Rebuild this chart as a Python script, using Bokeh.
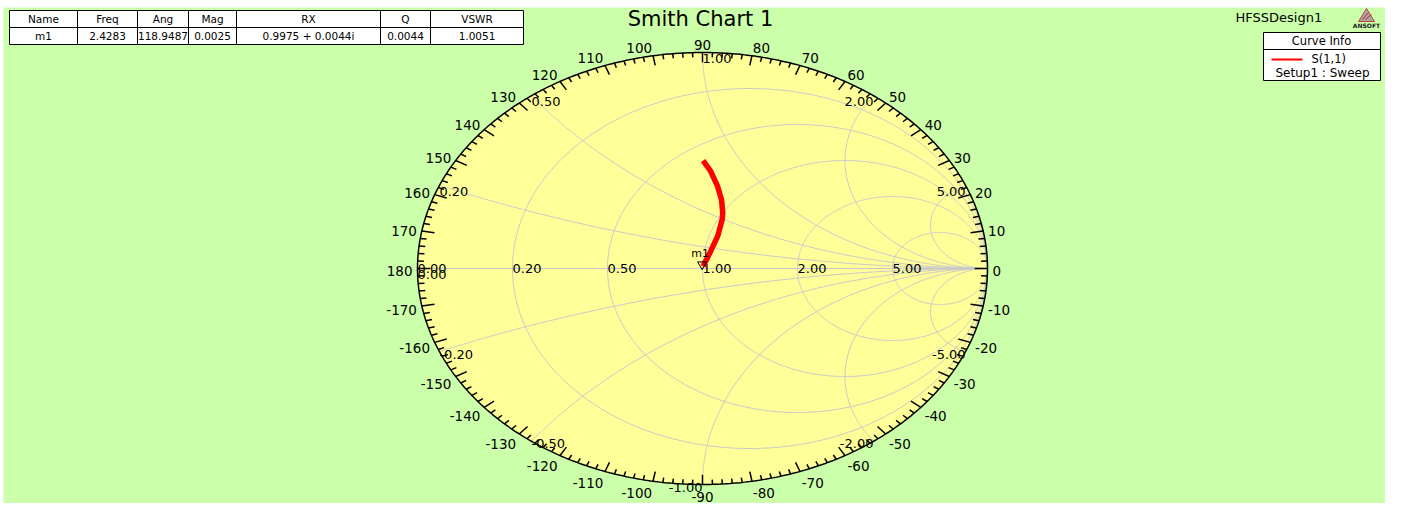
import numpy as np
from bokeh.plotting import figure
from bokeh.models import Range1d
from bokeh.core.properties import value
from bokeh.embed import file_html
from bokeh.resources import INLINE

# ---------------- data ----------------
title_text = "Smith Chart 1"
design_name = "HFSSDesign1"
trace_name = "S(1,1)"
sweep_name = "Setup1 : Sweep"

s11_re = [0.002, 0.028, 0.054, 0.069, 0.071, 0.067, 0.052, 0.028, 0.002]
s11_im = [0.010, 0.078, 0.152, 0.227, 0.257, 0.317, 0.384, 0.452, 0.499]

# marker m1
marker_name = "m1"
marker_mag = 0.0025
marker_ang = 118.9487
table_headers = ["Name", "Freq", "Ang", "Mag", "RX", "Q", "VSWR"]
table_values = ["m1", "2.4283", "118.9487", "0.0025", "0.9975 + 0.0044i", "0.0044", "1.0051"]

# Smith grid values (resistance circles / reactance arcs)
grid_values = [0.2, 0.5, 1.0, 2.0, 5.0]
angle_labels = list(range(-170, 190, 10))

# ---------------- layout ----------------
FONT = "DejaVu Sans"
GREEN = "#CCFFAA"
YELLOW = "#FFFF99"
GRIDC = "#C8C8CC"
W, H = 1385, 503
CX, CY, RX, RY = 702, 268, 285, 216   # chart centre / radii in canvas px


def gx(px):
    return (px - CX) / RX


def gy(py):
    return (CY - py) / RY


p = figure(width=W, height=H, output_backend="svg", toolbar_location=None,
           x_range=Range1d(-CX / RX, (W - CX) / RX),
           y_range=Range1d((CY - H) / RY, CY / RY),
           x_axis_type=None, y_axis_type=None, min_border=0)
p.background_fill_color = "white"
p.border_fill_color = "white"
p.outline_line_color = None
p.grid.visible = False


def txt(x, y, s, size, align="left", baseline="middle", color="black", style="normal"):
    p.text(x=[x], y=[y], text=[s], text_font=value(FONT),
           text_font_size=value(f"{size}px"), text_align=align,
           text_baseline=baseline, text_color=color, text_font_style=style)


# green panel
p.quad(left=[gx(3)], right=[gx(W + 5)], top=[gy(7)], bottom=[gy(H + 5)],
       fill_color=GREEN, line_color=None)

# chart disc
th = np.linspace(0, 2 * np.pi, 721)
p.patch(np.cos(th), np.sin(th), fill_color=YELLOW, line_color=None)

# resistance circles
xs, ys = [], []
for r in grid_values:
    c, R = r / (1 + r), 1 / (1 + r)
    xs.append(list(c + R * np.cos(th)))
    ys.append(list(R * np.sin(th)))
# reactance arcs
rr = np.concatenate([[0.0], np.logspace(-3, 4, 600)])
for xv in grid_values + [-v for v in grid_values]:
    g = (rr + 1j * xv - 1) / (rr + 1j * xv + 1)
    xs.append(list(g.real))
    ys.append(list(g.imag))
xs.append([-1, 1])
ys.append([0, 0])
p.multi_line(xs, ys, line_color=GRIDC, line_width=1)

# resistance labels on the real axis
for r in [0.0] + grid_values:
    txt((r - 1) / (r + 1), 0.5 / RY, f"{r:.2f}", 13, "left", "alphabetic")

# reactance labels on the rim
for xv in [0.0] + grid_values + [-v for v in grid_values]:
    g = (1j * xv - 1) / (1j * xv + 1)
    gr, gi = g.real, g.imag
    if xv >= 0:
        align = "left" if gr < 1e-9 else "right"
        txt(gr, gi - 1.5 / RY, f"{xv:.2f}", 13, align, "top")
    else:
        align = "left" if gr < -1e-9 else "right"
        txt(gr, gi - 2.5 / RY, f"{xv:.2f}", 13, align, "alphabetic")

# rim
p.line(np.cos(th), np.sin(th), line_color="black", line_width=1.5)

# angle ticks
deg = np.arange(-180, 180, 2)
L = np.where(deg % 10 == 0, 0.045, 0.022)
ca, sa = np.cos(np.radians(deg)), np.sin(np.radians(deg))
p.segment(ca, sa, ca * (1 - L), sa * (1 - L), line_color="black", line_width=1.5)

# angle labels
for a in angle_labels:
    c, s = np.cos(np.radians(a)), np.sin(np.radians(a))
    align = "left" if c > 1e-6 else ("right" if c < -1e-6 else "center")
    txt(290 / RX * c, (-2 + 226 * s) / RY, str(a), 13.5, align, "middle")

# S(1,1) trace
p.line(s11_re, s11_im, line_color="red", line_width=5.5)

# marker m1
mre = marker_mag * np.cos(np.radians(marker_ang))
mim = marker_mag * np.sin(np.radians(marker_ang))
p.scatter([mre], [mim + 3.5 / RY], marker="inverted_triangle", size=9,
          fill_color=None, line_color="black", line_width=1)
txt(mre - 2 / RX, mim + 8 / RY, marker_name, 11, "center", "bottom")

# title and design name
txt(gx(700), gy(18), title_text, 21, "center", "middle")
txt(gx(1235), gy(17), design_name, 13, "left", "middle")

# ANSOFT logo
p.patch([gx(1366), gx(1358), gx(1374)], [gy(8), gy(21), gy(21)],
        fill_color="#A8A8A8", line_color="#C04040", line_width=1)
p.segment([gx(1362), gx(1365)], [gy(19), gy(19)], [gx(1368), gx(1371)], [gy(12), gy(14)],
          line_color="#D02020", line_width=1)
txt(gx(1366), gy(25), "ANSOFT", 6, "center", "middle", "#202020", "bold")

# legend box
p.quad(left=[gx(1263)], right=[gx(1380)], top=[gy(32)], bottom=[gy(80)],
       fill_color="white", line_color="black", line_width=1)
p.segment([gx(1263)], [gy(49)], [gx(1380)], [gy(49)], line_color="black", line_width=1)
txt(gx(1321), gy(40.5), "Curve Info", 11.5, "center", "middle")
p.segment([gx(1271)], [gy(59)], [gx(1302)], [gy(59)], line_color="red", line_width=2)
txt(gx(1311), gy(58.5), trace_name, 11.5, "left", "middle")
txt(gx(1322), gy(72), sweep_name, 12, "center", "middle")

# marker table
cols = [9, 77, 137, 188, 236, 380, 430, 523]
top, mid, bot = 10, 27, 44
p.quad(left=[gx(cols[0])], right=[gx(cols[-1])], top=[gy(top)], bottom=[gy(bot)],
       fill_color="white", line_color="black", line_width=1)
p.segment([gx(cols[0])], [gy(mid)], [gx(cols[-1])], [gy(mid)], line_color="black", line_width=1)
p.segment([gx(c) for c in cols[1:-1]], [gy(top)] * 6, [gx(c) for c in cols[1:-1]], [gy(bot)] * 6,
          line_color="black", line_width=1)
for i in range(7):
    xc = gx((cols[i] + cols[i + 1]) / 2)
    txt(xc, gy((top + mid) / 2), table_headers[i], 10.5, "center", "middle")
    txt(xc, gy((mid + bot) / 2), table_values[i], 10.5, "center", "middle")

open("out.html", "w").write(file_html(p, INLINE))
